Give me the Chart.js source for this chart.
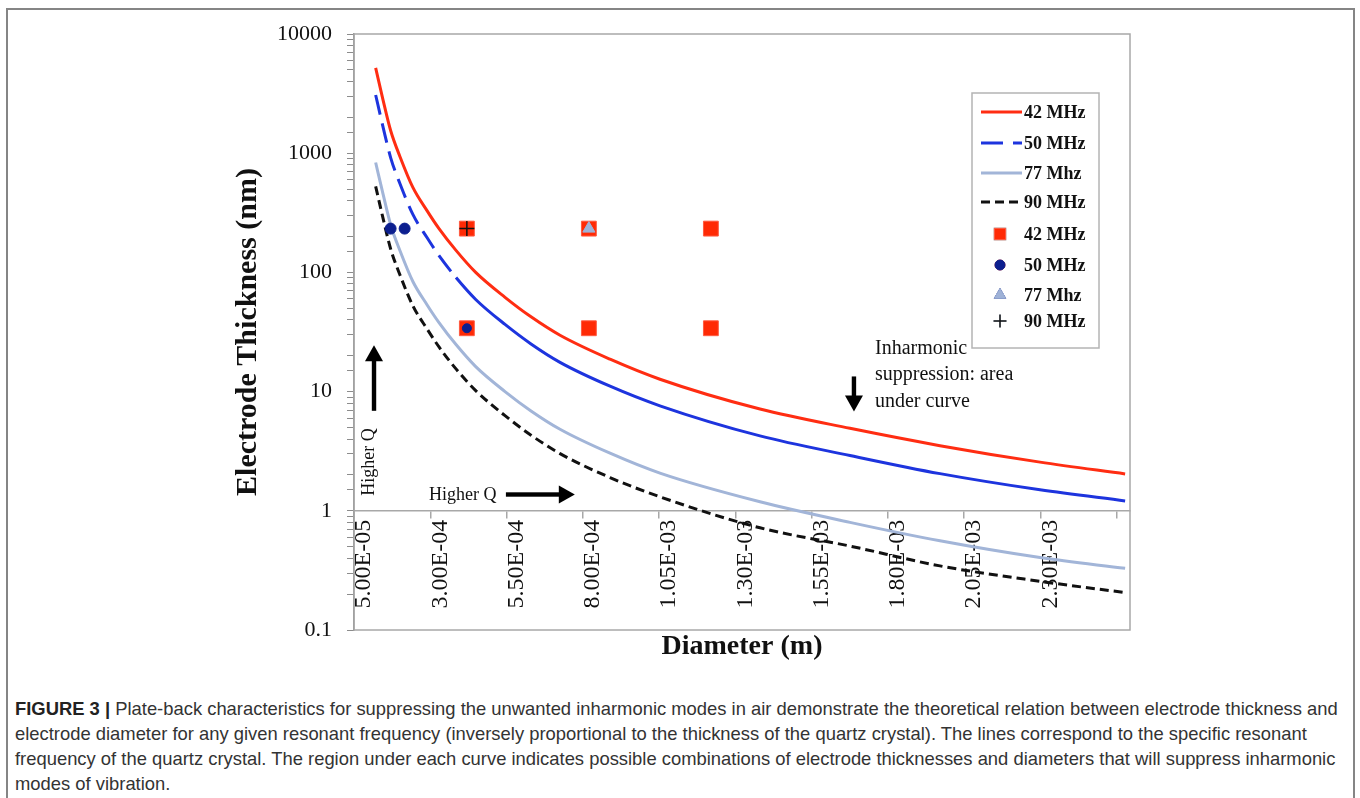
<!DOCTYPE html>
<html>
<head>
<meta charset="utf-8">
<script src="https://cdn.jsdelivr.net/npm/chart.js@4.4.1/dist/chart.umd.min.js"></script>
<style>
  html, body { margin: 0; padding: 0; background: #fff; }
  body { width: 1360px; height: 798px; position: relative; overflow: hidden; }
  #marco { position: absolute; left: 6px; top: 8px; width: 1349px; height: 830px; border: 2px solid #858585; box-sizing: border-box; }
  #caja { position: absolute; left: 0; top: 0; width: 1360px; height: 670px; }
  #pie { position: absolute; left: 15px; top: 696px; font-family: 'Liberation Sans', Arial, sans-serif; font-size: 18.4px; line-height: 25px; color: #333; white-space: nowrap; }
  #pie b { color: #222; }
</style>
</head>
<body>
<div id="marco"></div>
<div id="caja"><canvas id="graph"></canvas></div>
<div id="pie">
<b>FIGURE 3 |</b> Plate-back characteristics for suppressing the unwanted inharmonic modes in air demonstrate the theoretical relation between electrode thickness and<br>
electrode diameter for any given resonant frequency (inversely proportional to the thickness of the quartz crystal). The lines correspond to the specific resonant<br>
frequency of the quartz crystal. The region under each curve indicates possible combinations of electrode thicknesses and diameters that will suppress inharmonic<br>
modes of vibration.
</div>
<script>
// Curvas: diámetro (m) y espesor del electrodo (nm)
const diamCurva = [1.21e-4, 1.451e-4, 1.703e-4, 2.008e-4, 2.434e-4, 2.893e-4, 3.287e-4, 3.844e-4, 4.49e-4, 5.451e-4, 6.303e-4, 7.254e-4, 8.894e-4, 1.053e-3, 1.381e-3, 1.676e-3, 1.971e-3, 2.299e-3, 2.578e-3];
const esp42 = [5195, 2804, 1543, 935, 514, 330, 233, 153, 100, 61.8, 42.4, 29.7, 18.7, 12.7, 7.14, 4.92, 3.52, 2.56, 2.04];
const esp50 = [3080, 1662, 915, 554, 305, 196, 138, 90.6, 59.3, 36.6, 25.1, 17.6, 11.1, 7.6, 4.25, 2.91, 2.05, 1.50, 1.21];
const esp77 = [835, 455, 250, 152, 83.5, 53.6, 37.9, 24.8, 16.2, 10.0, 6.88, 4.83, 3.04, 2.07, 1.19, 0.80, 0.56, 0.405, 0.329];
const esp90 = [527, 285, 157, 95, 52.3, 33.6, 23.7, 15.5, 10.2, 6.28, 4.31, 3.02, 1.90, 1.31, 0.72, 0.506, 0.345, 0.256, 0.206];

// Puntos medidos (marcadores)
const ptsDiam42 = [4.2e-4, 8.2e-4, 1.22e-3, 4.2e-4, 8.2e-4, 1.22e-3];
const ptsEsp42  = [233, 233, 233, 34, 34, 34];
const ptsDiam50 = [1.70e-4, 2.16e-4, 4.2e-4];
const ptsEsp50  = [233, 233, 34];
const ptsDiam77 = [8.2e-4];
const ptsEsp77  = [233];
const ptsDiam90 = [4.2e-4];
const ptsEsp90  = [233];

// Ejes
const xTicks = [5e-5, 3e-4, 5.5e-4, 8e-4, 1.05e-3, 1.3e-3, 1.55e-3, 1.8e-3, 2.05e-3, 2.3e-3, 2.55e-3];
const xTickLabels = ['5.00E-05', '3.00E-04', '5.50E-04', '8.00E-04', '1.05E-03', '1.30E-03', '1.55E-03', '1.80E-03', '2.05E-03', '2.30E-03', ''];
const xMin = 5e-5, xMax = 2.594e-3;
const yMin = 0.1, yMax = 10000;

const serif = "'Liberation Serif', 'Times New Roman', serif";

function puntos(xs, ys) {
  return xs.map((x, i) => ({ x: x, y: ys[i] }));
}

const corte50 = 3.6e-4; // hasta aquí la curva de 50 MHz se ve a trazos

const datasets = [
  { label: '42 MHz', data: puntos(diamCurva, esp42), borderColor: '#ff2d12', borderWidth: 3, pointRadius: 0, order: 7, cubicInterpolationMode: 'monotone', kind: 'line' },
  { label: '50 MHz', data: puntos(diamCurva, esp50), borderColor: '#1d34de', borderWidth: 3, pointRadius: 0, order: 6, cubicInterpolationMode: 'monotone', kind: 'line',
    legendDash: [22, 10],
    segment: { borderDash: ctx => ctx.p0.parsed.x < corte50 ? [20, 9] : [] } },
  { label: '77 Mhz', data: puntos(diamCurva, esp77), borderColor: '#a2b5d8', borderWidth: 3, pointRadius: 0, order: 5, cubicInterpolationMode: 'monotone', kind: 'line' },
  { label: '90 MHz', data: puntos(diamCurva, esp90), borderColor: '#111111', borderWidth: 3, borderDash: [9, 5], pointRadius: 0, order: 4, cubicInterpolationMode: 'monotone', kind: 'line' },
  { label: '42 MHz', data: puntos(ptsDiam42, ptsEsp42), showLine: false, pointStyle: 'rect', pointRadius: 10.5, pointBackgroundColor: '#ff2a05', pointBorderColor: '#ff5a40', pointBorderWidth: 1, order: 3, kind: 'point' },
  { label: '50 MHz', data: puntos(ptsDiam50, ptsEsp50), showLine: false, pointStyle: 'circle', pointRadius: [5.5, 5.5, 4.5], pointBackgroundColor: '#0c1f8f', pointBorderColor: '#0c1f8f', pointBorderWidth: 1, order: 2, kind: 'point' },
  { label: '77 Mhz', data: puntos(ptsDiam77, ptsEsp77), showLine: false, pointStyle: 'triangle', pointRadius: 7, pointBackgroundColor: '#9fb2d7', pointBorderColor: '#9fb2d7', pointBorderWidth: 1, order: 1, kind: 'point' },
  { label: '90 MHz', data: puntos(ptsDiam90, ptsEsp90), showLine: false, pointStyle: 'cross', pointRadius: 7.5, pointBorderColor: '#111111', pointBorderWidth: 1.5, order: 0, kind: 'point' }
];

// Anotaciones en coordenadas de datos
const notas = [
  { text: ['Higher Q'], x: 9.9e-5, y: 2.57, size: 18, rot: -Math.PI / 2, align: 'center' },
  { text: ['Higher Q'], x: 2.96e-4, y: 1.36, size: 18, rot: 0, align: 'left' },
  { text: ['Inharmonic', 'suppression: area', 'under curve'], x: 1.758e-3, y: 23.1, size: 20, rot: 0, align: 'left', lh: 26.5 }
];
const flechas = [
  { x1: 1.156e-4, y1: 6.9, x2: 1.156e-4, y2: 24.5 },
  { x1: 5.48e-4, y1: 1.37, x2: 7.74e-4, y2: 1.37 },
  { x1: 1.689e-3, y1: 13.4, x2: 1.689e-3, y2: 6.8 }
];

function flecha(ctx, x1, y1, x2, y2) {
  const ang = Math.atan2(y2 - y1, x2 - x1);
  const largo = Math.hypot(x2 - x1, y2 - y1);
  ctx.save();
  ctx.translate(x1, y1);
  ctx.rotate(ang);
  ctx.fillStyle = '#000';
  ctx.fillRect(0, -2.2, largo - 14, 4.4);
  ctx.beginPath();
  ctx.moveTo(largo, 0);
  ctx.lineTo(largo - 16, -9);
  ctx.lineTo(largo - 16, 9);
  ctx.closePath();
  ctx.fill();
  ctx.restore();
}

// Borde del área de trazado
const bordePlugin = {
  id: 'borde',
  beforeDatasetsDraw(chart) {
    const { ctx, chartArea: a } = chart;
    ctx.save();
    ctx.strokeStyle = '#a8a8a8';
    ctx.lineWidth = 1.5;
    ctx.strokeRect(a.left, a.top, a.right - a.left, a.bottom - a.top);
    ctx.restore();
  }
};

// Leyenda dibujada dentro del área, como en la figura
const leyendaPlugin = {
  id: 'leyenda',
  afterDraw(chart) {
    const { ctx } = chart;
    const x = chart.chartArea.right - 158, y = chart.chartArea.top + 59;
    const w = 127, h = 255;
    ctx.save();
    ctx.fillStyle = '#fff';
    ctx.strokeStyle = '#b4b4b4';
    ctx.lineWidth = 1.5;
    ctx.fillRect(x, y, w, h);
    ctx.strokeRect(x, y, w, h);
    const filas = [19, 50, 80, 109, 141, 172, 202, 228];
    chart.data.datasets.forEach((ds, i) => {
      const cy = y + filas[i];
      if (ds.kind === 'line') {
        ctx.save();
        ctx.strokeStyle = ds.borderColor;
        ctx.lineWidth = 3;
        ctx.setLineDash(ds.legendDash || ds.borderDash || []);
        ctx.beginPath();
        ctx.moveTo(x + 9, cy);
        ctx.lineTo(x + 50, cy);
        ctx.stroke();
        ctx.restore();
      } else {
        const r = ds.pointStyle === 'rect' ? 8 : (ds.pointStyle === 'circle' ? 5 : 6.5);
        Chart.helpers.drawPoint(ctx, {
          pointStyle: ds.pointStyle, radius: r, rotation: 0,
          borderWidth: ds.pointBorderWidth
        }, x + 28, cy);
        ctx.fillStyle = ds.pointBackgroundColor || '#000';
        ctx.strokeStyle = ds.pointBorderColor;
        ctx.lineWidth = ds.pointBorderWidth;
        ctx.fill();
        ctx.stroke();
      }
      ctx.fillStyle = '#111';
      ctx.font = 'bold 18px ' + serif;
      ctx.textBaseline = 'middle';
      ctx.textAlign = 'left';
      ctx.fillText(ds.label, x + 52, cy + 1);
    });
    ctx.restore();
  }
};

const notasPlugin = {
  id: 'notas',
  afterDraw(chart) {
    const { ctx, scales } = chart;
    ctx.save();
    ctx.fillStyle = '#111';
    ctx.textBaseline = 'middle';
    notas.forEach(n => {
      const px = scales.x.getPixelForValue(n.x);
      const py = scales.y.getPixelForValue(n.y);
      ctx.save();
      ctx.translate(px, py);
      ctx.rotate(n.rot);
      ctx.font = n.size + 'px ' + serif;
      ctx.textAlign = n.align;
      n.text.forEach((t, k) => ctx.fillText(t, 0, k * (n.lh || 0)));
      ctx.restore();
    });
    flechas.forEach(f => {
      flecha(ctx, scales.x.getPixelForValue(f.x1), scales.y.getPixelForValue(f.y1),
        scales.x.getPixelForValue(f.x2), scales.y.getPixelForValue(f.y2));
    });
    ctx.restore();
  }
};

const ctx = document.getElementById('graph').getContext('2d');
new Chart(ctx, {
  type: 'line',
  data: { datasets: datasets },
  plugins: [bordePlugin, leyendaPlugin, notasPlugin],
  options: {
    responsive: true,
    maintainAspectRatio: false,
    animation: false,
    layout: { padding: { left: 0, top: 34, right: 230, bottom: 0 } },
    plugins: { legend: { display: false }, tooltip: { enabled: false } },
    scales: {
      x: {
        type: 'linear',
        min: xMin, max: xMax,
        position: { y: 1 },
        afterBuildTicks: s => { s.ticks = xTicks.map(v => ({ value: v })); },
        ticks: {
          autoSkip: false,
          minRotation: 90, maxRotation: 90,
          labelOffset: 10,
          padding: 2,
          color: '#111',
          font: { family: serif, size: 24 },
          callback: (v, i) => xTickLabels[i]
        },
        grid: { drawOnChartArea: false, drawTicks: true, tickLength: 7, color: '#a8a8a8', lineWidth: 1.5 },
        border: { display: true, color: '#a8a8a8', width: 1.5 }
      },
      x2: {
        type: 'linear',
        axis: 'x',
        min: xMin, max: xMax,
        position: 'bottom',
        afterFit: s => { s.height = 40; },
        ticks: { display: false },
        grid: { display: false },
        border: { display: false },
        title: { display: true, text: 'Diameter (m)', color: '#111', font: { family: serif, size: 28, weight: 'bold' }, padding: { top: 0, bottom: 6 } }
      },
      y: {
        type: 'logarithmic',
        min: yMin, max: yMax,
        position: 'left',
        afterFit: s => { s.width = 354; },
        ticks: {
          autoSkip: false,
          padding: 15,
          color: '#111',
          font: { family: serif, size: 22 },
          callback: v => {
            const l = Math.log10(v);
            return Math.abs(l - Math.round(l)) < 1e-6 ? String(v) : '';
          }
        },
        grid: { drawOnChartArea: false, drawTicks: true, tickLength: 7, color: '#8c8c8c', lineWidth: 1 },
        border: { display: true, color: '#8c8c8c', width: 1.5 },
        title: { display: true, text: 'Electrode Thickness (nm)', color: '#111', font: { family: serif, size: 30, weight: 'bold' }, padding: { top: 230, bottom: 0 } }
      }
    }
  }
});
</script>
</body>
</html>
